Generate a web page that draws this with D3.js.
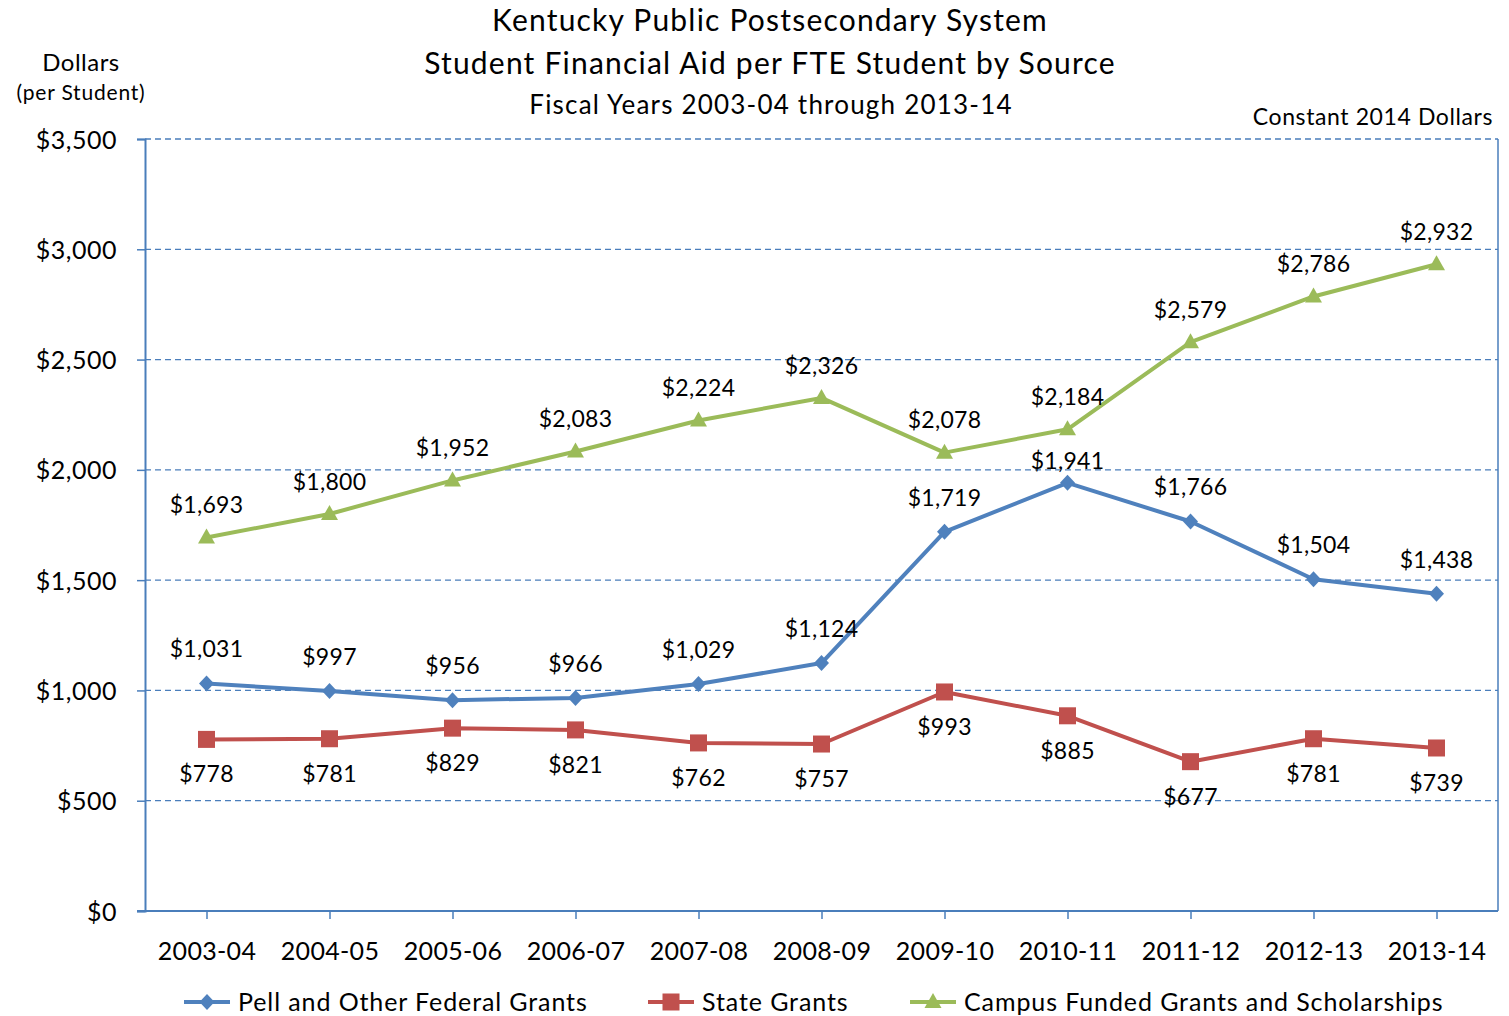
<!DOCTYPE html>
<html>
<head>
<meta charset="utf-8">
<script src="https://cdn.jsdelivr.net/npm/d3@7"></script>
<style>
  html, body { margin: 0; padding: 0; background: #fff; }
  svg text { font-family: Lato, "Open Sans", sans-serif; fill: #000; }
</style>
</head>
<body>
<svg id="chart" width="1509" height="1016"></svg>
<script>
// Data
const years = ["2003-04","2004-05","2005-06","2006-07","2007-08","2008-09","2009-10","2010-11","2011-12","2012-13","2013-14"];
const pell   = [1031, 997, 956, 966, 1029, 1124, 1719, 1941, 1766, 1504, 1438];
const stateG = [778, 781, 829, 821, 762, 757, 993, 885, 677, 781, 739];
const campus = [1693, 1800, 1952, 2083, 2224, 2326, 2078, 2184, 2579, 2786, 2932];
const yTicks = [0, 500, 1000, 1500, 2000, 2500, 3000, 3500];

const series = [
  { name: "Pell and Other Federal Grants", values: pell,   color: "#4f81bd", marker: "diamond",  labelDy: -32 },
  { name: "State Grants",                  values: stateG, color: "#c0504d", marker: "square",   labelDy: 37 },
  { name: "Campus Funded Grants and Scholarships", values: campus, color: "#9bbb59", marker: "triangle", labelDy: -30 }
];

const svg = d3.select("#chart");
const plotL = 145, plotR = 1498, plotT = 139, plotB = 911;

const x = d3.scalePoint().domain(years).range([plotL, plotR]).padding(0.5);
const y = d3.scaleLinear().domain([0, 3500]).range([plotB, plotT]);
const money = d3.format("$,");

function label(txt, px, py, size, spacing, anchor) {
  return svg.append("text").attr("x", px).attr("y", py).attr("text-anchor", anchor || "middle")
    .attr("dominant-baseline", "middle").style("font-size", size + "px")
    .style("letter-spacing", spacing + "px").text(txt);
}

// Titles
label("Kentucky Public Postsecondary  System", 770, 23, 30, 1.2);
label("Student Financial Aid per FTE Student by Source", 770, 66, 30, 1.2);
label("Fiscal Years 2003-04 through 2013-14", 771, 107, 26, 1.2);
label("Dollars", 81, 65, 24, 0.5);
label("(per Student)", 81, 95, 21, 0.8);
label("Constant 2014 Dollars", 1493, 119, 23, 0.6, "end");

// Gridlines
svg.append("g").selectAll("line").data(yTicks.filter(d => d > 0)).join("line")
  .attr("x1", plotL).attr("x2", plotR)
  .attr("y1", d => y(d)).attr("y2", d => y(d))
  .attr("stroke", "#4a7ebb").attr("stroke-width", 1.3).attr("stroke-dasharray", "6,4");

// Right border
svg.append("line").attr("x1", plotR).attr("x2", plotR).attr("y1", plotT).attr("y2", plotB)
  .attr("stroke", "#4a7ebb").attr("stroke-width", 1.5);

// Y axis
const yAxis = svg.append("g").attr("transform", `translate(${plotL},0)`)
  .call(d3.axisLeft(y).tickValues(yTicks).tickFormat(money).tickSize(8).tickPadding(20));
yAxis.select(".domain").attr("stroke", "#4a7ebb").attr("stroke-width", 2);
yAxis.selectAll(".tick line").attr("stroke", "#4a7ebb").attr("stroke-width", 1.5);
yAxis.selectAll(".tick text").style("font-size", "25px").style("letter-spacing", "0.5px").attr("fill", "#000")
  .style("font-family", "Lato, 'Open Sans', sans-serif").attr("dy", "0.36em");

// X axis
const xAxis = svg.append("g").attr("transform", `translate(0,${plotB})`)
  .call(d3.axisBottom(x).tickSizeInner(8).tickSizeOuter(0).tickPadding(23));
xAxis.select(".domain").attr("stroke", "#4a7ebb").attr("stroke-width", 2)
  .attr("d", `M${plotL - 8},0H${plotR}`);
xAxis.selectAll(".tick line").attr("stroke", "#4a7ebb").attr("stroke-width", 1.5);
xAxis.selectAll(".tick text").style("font-size", "25px").style("letter-spacing", "0.3px").attr("fill", "#000")
  .style("font-family", "Lato, 'Open Sans', sans-serif");

// Marker drawing
function drawMarker(g, type, cx, cy, color) {
  if (type === "diamond") {
    g.append("path").attr("d", `M${cx},${cy - 8}L${cx + 7.5},${cy}L${cx},${cy + 8}L${cx - 7.5},${cy}Z`).attr("fill", color);
  } else if (type === "square") {
    g.append("rect").attr("x", cx - 8.5).attr("y", cy - 8.5).attr("width", 17).attr("height", 17).attr("fill", color);
  } else {
    g.append("path").attr("d", `M${cx},${cy - 9}L${cx + 8.5},${cy + 6}L${cx - 8.5},${cy + 6}Z`).attr("fill", color);
  }
}

// per-point label nudges where the original moved them
const labelNudge = { "Pell and Other Federal Grants|2010-11": 12 };

const line = d3.line().x(d => x(d.year)).y(d => y(d.v));
series.forEach(s => {
  const pts = years.map((yr, i) => ({ year: yr, v: s.values[i] }));
  const g = svg.append("g");
  g.append("path").datum(pts).attr("d", line).attr("fill", "none")
    .attr("stroke", s.color).attr("stroke-width", 4).attr("stroke-linejoin", "round");
  pts.forEach(p => drawMarker(g, s.marker, x(p.year), y(p.v), s.color));
  g.selectAll("text").data(pts).join("text")
    .attr("x", d => x(d.year))
    .attr("y", d => y(d.v) + s.labelDy + (labelNudge[s.name + "|" + d.year] || 0))
    .attr("text-anchor", "middle").attr("dominant-baseline", "middle")
    .style("font-size", "23px").style("letter-spacing", "0.3px").text(d => money(d.v));
});

// Legend
const legendItems = [
  { s: series[0], x: 184 },
  { s: series[1], x: 648 },
  { s: series[2], x: 910 }
];
const lg = svg.append("g");
legendItems.forEach(it => {
  const ly = 1002;
  lg.append("line").attr("x1", it.x).attr("x2", it.x + 46).attr("y1", ly).attr("y2", ly)
    .attr("stroke", it.s.color).attr("stroke-width", 4);
  drawMarker(lg, it.s.marker, it.x + 23, ly, it.s.color);
  lg.append("text").attr("x", it.x + 54).attr("y", ly + 3).attr("dominant-baseline", "middle")
    .style("font-size", "25px").style("letter-spacing", "0.9px").text(it.s.name);
});
</script>
</body>
</html>
